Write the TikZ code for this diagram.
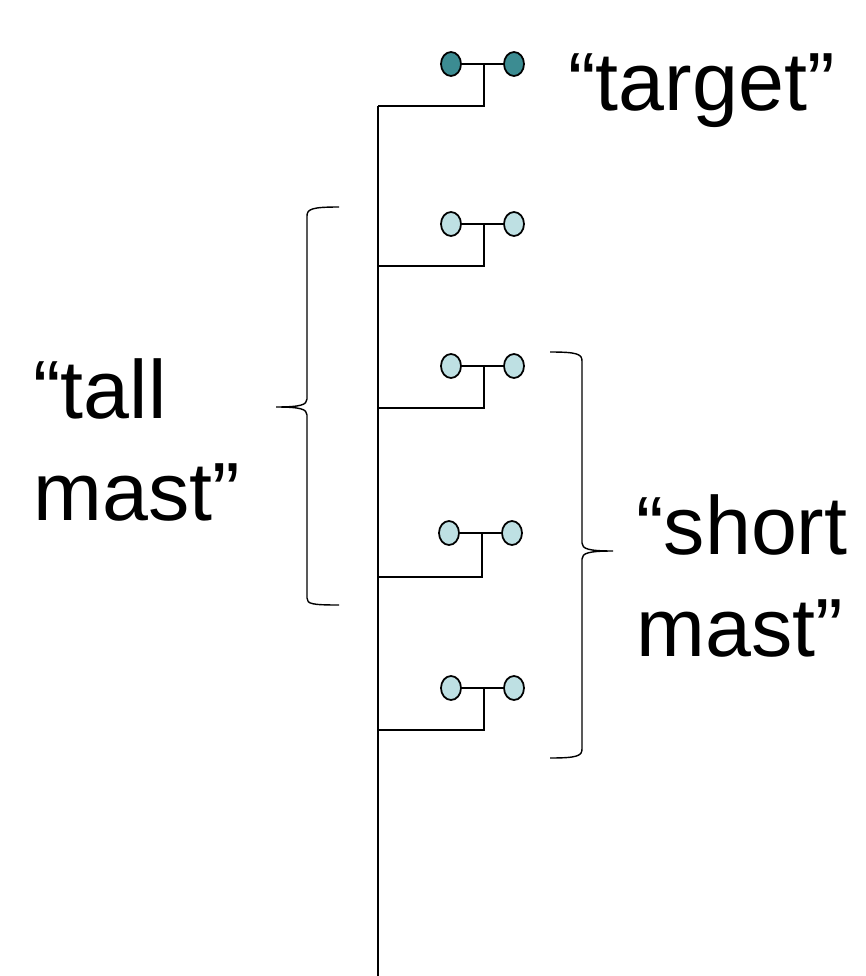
\documentclass[tikz,border=0pt]{standalone}
\usepackage{fontspec}
\setmainfont{Liberation Sans}
\usetikzlibrary{shapes.geometric}

\definecolor{targetfill}{RGB}{60,140,146}
\definecolor{mastfill}{RGB}{190,224,227}

\tikzset{
  flag/.style={ellipse, draw, line width=1pt, fill=mastfill,
    minimum width=0.4cm, minimum height=0.48cm, inner sep=0pt},
  bigtext/.style={inner sep=0pt, align=left,
    font=\fontsize{47}{57.8}\selectfont}
}

\begin{document}
\begin{tikzpicture}[x=0.02cm, y=-0.02cm]

\useasboundingbox (0,0) rectangle (865,976);

%% Flags %%
% target %
\node[flag, fill=targetfill] (t1l) at (451,64) {};
\node[flag, fill=targetfill] (t1r) at (514,64) {};

% tall mast %
\node[flag] (t2l) at (451,224) {};
\node[flag] (t2r) at (514,224) {};

\node[flag] (t3l) at (451,366) {};
\node[flag] (t3r) at (514,366) {};

% short mast %
\node[flag] (t4l) at (449,533) {};
\node[flag] (t4r) at (512,533) {};

\node[flag] (t5l) at (451,688) {};
\node[flag] (t5r) at (514,688) {};

%% Junctions %%
\coordinate (j1) at (484,64);
\coordinate (j2) at (484,224);
\coordinate (j3) at (484,366);
\coordinate (j4) at (482,533);
\coordinate (j5) at (484,688);

\coordinate (b1) at (378,106);
\coordinate (b2) at (378,266);
\coordinate (b3) at (378,408);
\coordinate (b4) at (378,577);
\coordinate (b5) at (378,730);
\coordinate (foot) at (378,976);

%% Connections %%
% mast %
\draw[line width=1.1pt] (b1) -- (foot);

% flag lines %
\draw[line width=0.8pt] (t1l) -- (t1r);
\draw[line width=0.8pt] (t2l) -- (t2r);
\draw[line width=0.8pt] (t3l) -- (t3r);
\draw[line width=0.8pt] (t4l) -- (t4r);
\draw[line width=0.8pt] (t5l) -- (t5r);

% branches %
\draw[line width=0.8pt] (j1) |- (b1);
\draw[line width=0.8pt] (j2) |- (b2);
\draw[line width=0.8pt] (j3) |- (b3);
\draw[line width=0.8pt] (j4) |- (b4);
\draw[line width=0.8pt] (j5) |- (b5);

%% Braces %%
% left %
\draw[line width=0.8pt] (339,207) .. controls (312,207) and (307,209) .. (307,216)
  -- (307,399) .. controls (307,405) and (300,407) .. (276,407)
  .. controls (300,407) and (307,409) .. (307,415)
  -- (307,598) .. controls (307,604) and (312,605) .. (339,605);

% right %
\draw[line width=0.8pt] (550,352) .. controls (577,352) and (582,354) .. (582,361)
  -- (582,543) .. controls (582,549) and (589,551) .. (613,551)
  .. controls (589,551) and (582,553) .. (582,559)
  -- (582,749) .. controls (582,756) and (577,758) .. (550,758);

%% Labels %%
\node[bigtext, anchor=base west] (target) at (568,111) {“target”};
\node[bigtext, anchor=base west] (tall) at (33,520) {“tall\\mast”};
\node[bigtext, anchor=base west] (short) at (636,656) {“short\\mast”};

\end{tikzpicture}
\end{document}
